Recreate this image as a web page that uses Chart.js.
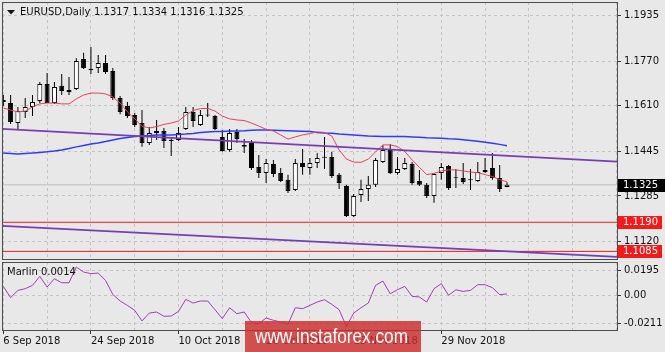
<!DOCTYPE html>
<html>
<head>
<meta charset="utf-8">
<script src="https://cdn.jsdelivr.net/npm/chart.js@4.4.0/dist/chart.umd.min.js"></script>
<style>
html,body{margin:0;padding:0;background:#e8e8e8;}
#wrap{position:relative;width:665px;height:352px;overflow:hidden;}
canvas{position:absolute;left:0;top:0;}
</style>
</head>
<body>
<div id="wrap">
<canvas id="main" width="665" height="352"></canvas>
<canvas id="sub" width="665" height="352"></canvas>
</div>
<script>
// EURUSD daily, bar 0 = 6 Sep 2018, last bar = 12 Dec 2018
const opens = [1.1631,1.1620,1.1548,1.1588,1.1606,1.1627,1.1689,1.1620,1.1682,1.1667,
1.1671,1.1779,1.1743,1.1746,1.1764,1.1736,1.1638,1.1609,1.1577,1.1548,
1.1476,1.1512,1.1519,1.1487,1.1487,1.1526,1.1588,1.1541,1.1577,1.1573,
1.1498,1.1451,1.1516,1.1469,1.1476,1.1389,1.1368,1.1400,1.1368,1.1343,
1.1306,1.1404,1.1386,1.1404,1.1425,1.1425,1.1361,1.1321,1.1213,1.1288,
1.1310,1.1325,1.1407,1.1451,1.1368,1.1382,1.1400,1.1339,1.1325,1.1285,
1.1368,1.1393,1.1350,1.1350,1.1343,1.1339,1.1379,1.1386,1.1350,1.1317];
const highs = [1.1649,1.1649,1.1606,1.1638,1.1649,1.1696,1.1728,1.1696,1.1725,1.1714,
1.1782,1.1801,1.1822,1.1793,1.1793,1.1746,1.1645,1.1624,1.1584,1.1595,
1.1534,1.1559,1.1530,1.1494,1.1534,1.1606,1.1606,1.1595,1.1620,1.1577,
1.1523,1.1526,1.1526,1.1490,1.1487,1.1433,1.1418,1.1415,1.1386,1.1361,
1.1418,1.1454,1.1422,1.1440,1.1498,1.1444,1.1368,1.1325,1.1292,1.1343,
1.1357,1.1422,1.1469,1.1472,1.1425,1.1422,1.1407,1.1379,1.1332,1.1368,
1.1404,1.1397,1.1382,1.1404,1.1382,1.1407,1.1422,1.1440,1.1397,1.1334];
const lows = [1.1609,1.1544,1.1526,1.1566,1.1573,1.1620,1.1620,1.1617,1.1649,1.1649,
1.1667,1.1743,1.1725,1.1728,1.1725,1.1631,1.1580,1.1566,1.1534,1.1462,
1.1469,1.1487,1.1458,1.1429,1.1483,1.1523,1.1534,1.1537,1.1570,1.1523,
1.1444,1.1444,1.1476,1.1440,1.1379,1.1350,1.1332,1.1353,1.1335,1.1296,
1.1303,1.1361,1.1361,1.1386,1.1382,1.1350,1.1310,1.1209,1.1209,1.1263,
1.1267,1.1317,1.1404,1.1364,1.1361,1.1379,1.1325,1.1321,1.1278,1.1260,
1.1343,1.1306,1.1314,1.1328,1.1306,1.1335,1.1368,1.1343,1.1299,1.1316];
const closes = [1.1624,1.1552,1.1591,1.1606,1.1624,1.1689,1.1620,1.1678,1.1663,1.1660,
1.1772,1.1746,1.1739,1.1764,1.1732,1.1638,1.1588,1.1573,1.1541,1.1476,
1.1512,1.1519,1.1483,1.1483,1.1512,1.1588,1.1555,1.1577,1.1575,1.1526,
1.1447,1.1512,1.1490,1.1462,1.1386,1.1368,1.1404,1.1364,1.1339,1.1303,
1.1404,1.1389,1.1404,1.1422,1.1423,1.1357,1.1332,1.1213,1.1285,1.1310,
1.1325,1.1415,1.1451,1.1368,1.1382,1.1404,1.1332,1.1325,1.1285,1.1364,
1.1389,1.1314,1.1349,1.1335,1.1342,1.1371,1.1371,1.1350,1.1310,1.1325];

// moving averages
const redMA = [1.1602,1.1595,1.1588,1.1591,1.1606,1.1617,1.1620,1.1620,1.1617,1.1617,
1.1635,1.1649,1.1656,1.1656,1.1653,1.1642,1.1620,1.1588,1.1563,1.1537,
1.1530,1.1535,1.1543,1.1548,1.1555,1.1577,1.1593,1.1600,1.1601,1.1591,
1.1573,1.1563,1.1559,1.1557,1.1548,1.1537,1.1525,1.1519,1.1505,1.1490,
1.1498,1.1505,1.1510,1.1516,1.1514,1.1501,1.1451,1.1418,1.1407,1.1406,
1.1418,1.1444,1.1469,1.1469,1.1463,1.1445,1.1415,1.1388,1.1362,1.1366,
1.1375,1.1379,1.1379,1.1375,1.1371,1.1369,1.1362,1.1355,1.1344,1.1336];
const blueMA = [1.1440,1.1438,1.1436,1.1438,1.1440,1.1442,1.1444,1.1447,1.1451,1.1456,
1.1462,1.1467,1.1472,1.1476,1.1481,1.1487,1.1492,1.1496,1.1499,1.1501,
1.1503,1.1505,1.1505,1.1505,1.1507,1.1508,1.1510,1.1514,1.1516,1.1517,
1.1517,1.1519,1.1519,1.1520,1.1522,1.1523,1.1523,1.1522,1.1521,1.1520,
1.1519,1.1518,1.1517,1.1514,1.1512,1.1511,1.1508,1.1507,1.1505,1.1503,
1.1501,1.1500,1.1499,1.1499,1.1499,1.1499,1.1498,1.1497,1.1495,1.1494,
1.1493,1.1491,1.1490,1.1488,1.1485,1.1482,1.1479,1.1475,1.1471,1.1466];

// Marlin oscillator
const marlin = [0.0072,-0.0015,0.0041,0.0054,0.0080,0.0149,0.0067,0.0131,0.0100,0.0100,
0.0221,0.0183,0.0170,0.0175,0.0118,0.0010,-0.0041,-0.0075,-0.0113,-0.0195,
-0.0134,-0.0126,-0.0159,-0.0157,-0.0121,-0.0028,-0.0057,-0.0041,-0.0041,-0.0108,
-0.0177,-0.0093,-0.0139,-0.0126,-0.0208,-0.0216,-0.0172,-0.0190,-0.0203,-0.0221,
-0.0093,-0.0100,-0.0075,-0.0049,-0.0031,-0.0067,-0.0108,-0.0237,-0.0134,-0.0093,
-0.0057,0.0080,0.0113,0.0015,0.0046,0.0072,-0.0005,-0.0010,-0.0049,0.0054,
0.0093,0.0003,0.0046,0.0033,0.0041,0.0085,0.0085,0.0062,0.0008,0.0014];

// trend channel (bar index at the two plot edges) and levels
const trendBars = [-0.18, 84.07];
const upperTrend = [1.1527, 1.1409];
const lowerTrend = [1.1177, 1.1065];
const levels = [1.1190, 1.1085];
const lastPrice = 1.1325;

const mainTicks = [1.1935, 1.1770, 1.1610, 1.1445, 1.1285, 1.1120];
const subTicks = [0.0195, 0, -0.0211];
const gridBars = [0,6,12,18,24,30,36,42,48,54,60,66,72,78,84];
const labelBars = [0,12,24,36,48,60];
const xLabels = ['6 Sep 2018','24 Sep 2018','10 Oct 2018','26 Oct 2018','13 Nov 2018','29 Nov 2018'];

const xMin = -0.18, xMax = 84.07;

Chart.defaults.font.family = 'DejaVu Sans';
Chart.defaults.font.size = 10;
Chart.defaults.color = '#111';
Chart.defaults.animation = false;

const gridCol = '#c4c4c4';

function frame(id){
  return {id:id, afterDraw(c){
    const a=c.chartArea, ctx=c.ctx;
    ctx.save();
    ctx.strokeStyle='#4d4d4d'; ctx.lineWidth=1;
    ctx.strokeRect(a.left+0.5, a.top+0.5, a.right-a.left, a.bottom-a.top);
    ctx.restore();
  }};
}

const mainOverlay = {id:'mainOverlay', afterDraw(c){
  const ctx=c.ctx, y=c.scales.y;
  ctx.save();
  // title
  ctx.fillStyle='#111';
  ctx.beginPath(); ctx.moveTo(7,10); ctx.lineTo(15,10); ctx.lineTo(11,14.5); ctx.closePath(); ctx.fill();
  ctx.font='10px "DejaVu Sans"'; ctx.textBaseline='middle';
  ctx.fillText('EURUSD,Daily', 20, 12.5);
  ctx.fillText(opens[69].toFixed(4)+' '+highs[69].toFixed(4)+' '+lows[69].toFixed(4)+' '+closes[69].toFixed(4), 94, 12.5);
  // price boxes
  function box(v, bg, w){
    const p=y.getPixelForValue(v);
    ctx.fillStyle=bg; ctx.fillRect(618, Math.round(p)-6, w, 13);
    ctx.fillStyle='#fff'; ctx.fillText(v.toFixed(4), 623, Math.round(p)+0.5);
  }
  box(lastPrice, '#000', 47);
  levels.forEach(v=>box(v, '#f51a1a', 44));
  ctx.restore();
}};

const subOverlay = {id:'subOverlay', afterDraw(c){
  const ctx=c.ctx;
  ctx.save();
  ctx.fillStyle='#111'; ctx.font='10px "DejaVu Sans"'; ctx.textBaseline='middle';
  ctx.fillText('Marlin '+marlin[69].toFixed(4), 7, 272.5);
  // watermark
  ctx.fillStyle='rgba(205,45,45,0.82)';
  ctx.fillRect(245,321,176,31);
  ctx.fillStyle='#fff'; ctx.font='20px "Liberation Sans"'; ctx.textBaseline='alphabetic';
  const t='www.instaforex.com', w=ctx.measureText(t).width;
  ctx.translate(255,342.5); ctx.scale(153/w,1); ctx.fillText(t,0,0);
  ctx.restore();
}};

function xScale(showLabels){
  return {
    type:'linear', min:xMin, max:xMax, bounds:'data', offset:false,
    afterBuildTicks: s => { s.ticks = gridBars.map(v=>({value:v})); },
    afterFit: s => { s.height = showLabels ? 22 : 93; s.paddingLeft=0; s.paddingRight=0; },
    grid:{color:gridCol, offset:false, drawTicks:showLabels, tickLength:4,
      tickColor: c => (c.tick && labelBars.includes(c.tick.value)) ? '#333' : 'rgba(0,0,0,0)'},
    border:{display:false, dash:[3,3]},
    ticks:{display:showLabels, padding:1, align:'start', maxRotation:0, minRotation:0, autoSkip:false,
      callback: v => { const k=labelBars.indexOf(v); return k<0 ? '' : xLabels[k]; }}
  };
}

function yScale(min, max, tickVals, fmt){
  return {
    position:'right', min:min, max:max, bounds:'data',
    afterBuildTicks: s => { s.ticks = tickVals.map(v=>({value:v})); },
    afterFit: s => { s.width = 48; s.paddingTop=0; s.paddingBottom=0; },
    grid:{color:gridCol, tickColor:'#333', tickLength:4},
    border:{display:false, dash:[3,3]},
    ticks:{padding:3, autoSkip:false, callback:fmt}
  };
}

const idx = opens.map((o,i)=>i);
const pts = arr => arr.map((v,i)=>({x:i, y:v}));
const hline = v => trendBars.map(x=>({x:x, y:v}));

new Chart(document.getElementById('main'), {
  type:'line',
  data:{datasets:[
    {data:hline(lastPrice), borderColor:'#cbcbcb', borderWidth:1.5, pointRadius:0, order:20},
    {data:hline(levels[0]), borderColor:'#ee1c1c', borderWidth:1, pointRadius:0, order:19},
    {data:hline(levels[1]), borderColor:'#ee1c1c', borderWidth:1, pointRadius:0, order:19},
    {type:'bar', data:idx.map(i=>({x:i, y:[lows[i], highs[i]]})), backgroundColor:'#000',
      borderWidth:0, barThickness:1, grouped:false, inflateAmount:0, order:6},
    {type:'bar', data:idx.map(i=>({x:i, y:[opens[i], closes[i]]})),
      backgroundColor: c => { const i=c.dataIndex; if (Math.abs(opens[i]-closes[i])<0.00025) return '#000'; return closes[i]>opens[i] ? '#fff' : '#000'; },
      borderColor:'#000', borderWidth:1, borderSkipped:false, barThickness:5, minBarLength:1,
      grouped:false, inflateAmount:0, order:5},
    {data:pts(blueMA), borderColor:'#2f3cf5', borderWidth:1.5, pointRadius:0, tension:0, order:3},
    {data:pts(redMA), borderColor:'#e8405e', borderWidth:1, pointRadius:0, tension:0, order:2},
    {data:trendBars.map((x,k)=>({x:x, y:upperTrend[k]})), borderColor:'#7a3cb4', borderWidth:1.8, pointRadius:0, order:1},
    {data:trendBars.map((x,k)=>({x:x, y:lowerTrend[k]})), borderColor:'#7a3cb4', borderWidth:1.8, pointRadius:0, order:1}
  ]},
  options:{
    responsive:false, animation:false,
    layout:{padding:{left:2, top:2, right:0, bottom:0}},
    plugins:{legend:{display:false}, tooltip:{enabled:false}},
    scales:{
      x: xScale(false),
      y: yScale(1.10576, 1.19844, mainTicks, v => v.toFixed(4))
    }
  },
  plugins:[frame('mf'), mainOverlay]
});

new Chart(document.getElementById('sub'), {
  type:'line',
  data:{datasets:[
    {data:pts(marlin), borderColor:'#a33cbc', borderWidth:1, pointRadius:0, tension:0}
  ]},
  options:{
    responsive:false, animation:false,
    layout:{padding:{left:2, top:262, right:0, bottom:0}},
    plugins:{legend:{display:false}, tooltip:{enabled:false}},
    scales:{
      x: xScale(true),
      y: yScale(-0.02649, 0.02602, subTicks, v => v===0 ? '0.00' : v.toFixed(4))
    }
  },
  plugins:[frame('sf'), subOverlay]
});
</script>
</body>
</html>
